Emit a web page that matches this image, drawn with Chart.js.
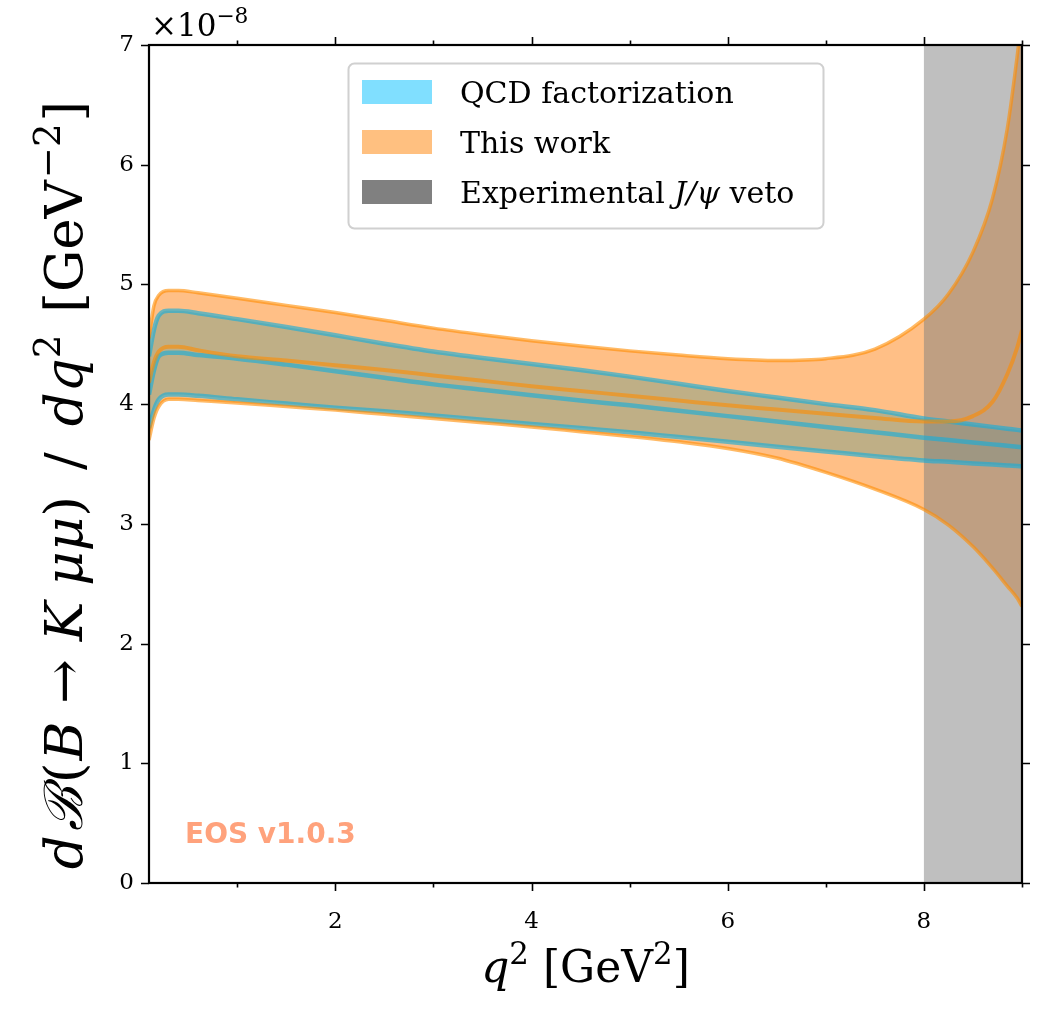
<!DOCTYPE html>
<html>
<head>
<meta charset="utf-8">
<script src="https://cdn.jsdelivr.net/npm/chart.js@4.4.0/dist/chart.umd.min.js"></script>
<style>
    html, body { margin: 0; padding: 0; background: #fff; }
</style>
</head>
<body>
<canvas id="myChart" width="1051" height="1014"></canvas>
<script>
// q^2 격자 [GeV^2]
const q2 = [0.1, 0.15, 0.2, 0.3, 0.4, 0.6, 1, 1.5, 2, 2.5, 3, 3.5, 4, 4.5, 5, 5.5, 6, 6.5, 7, 7.5, 8, 8.25, 8.5, 8.7, 8.85, 8.95, 9]

// This work 밴드 (단위 1e-8)
const thisUpper = [4.55, 4.82, 4.91, 4.95, 4.95, 4.93, 4.885, 4.825, 4.765, 4.70, 4.635, 4.58, 4.53, 4.485, 4.445, 4.41, 4.38, 4.365, 4.38, 4.46, 4.71, 4.92, 5.27, 5.72, 6.30, 6.90, 7.25]
const thisCentral = [4.18, 4.35, 4.44, 4.48, 4.48, 4.45, 4.40, 4.365, 4.325, 4.285, 4.24, 4.195, 4.15, 4.11, 4.07, 4.03, 3.99, 3.955, 3.92, 3.885, 3.855, 3.855, 3.90, 4.02, 4.25, 4.47, 4.62]
const thisLower = [3.70, 3.88, 3.98, 4.04, 4.04, 4.03, 4.01, 3.98, 3.95, 3.915, 3.88, 3.845, 3.81, 3.77, 3.73, 3.685, 3.63, 3.55, 3.43, 3.29, 3.12, 2.99, 2.81, 2.63, 2.48, 2.38, 2.31]

// QCD factorization 밴드
const qcdUpper = [4.40, 4.62, 4.74, 4.78, 4.78, 4.76, 4.71, 4.645, 4.575, 4.505, 4.44, 4.385, 4.335, 4.285, 4.23, 4.17, 4.11, 4.055, 4.00, 3.95, 3.88, 3.855, 3.83, 3.81, 3.795, 3.785, 3.78]
const qcdCentral = [4.08, 4.28, 4.40, 4.43, 4.43, 4.41, 4.38, 4.33, 4.275, 4.22, 4.165, 4.12, 4.075, 4.03, 3.99, 3.945, 3.90, 3.855, 3.81, 3.765, 3.72, 3.70, 3.68, 3.664, 3.652, 3.644, 3.64]
const qcdLower = [3.80, 3.95, 4.04, 4.08, 4.08, 4.07, 4.04, 4.005, 3.97, 3.94, 3.905, 3.87, 3.835, 3.80, 3.765, 3.725, 3.685, 3.645, 3.605, 3.565, 3.53, 3.518, 3.505, 3.495, 3.488, 3.483, 3.48]

// J/psi veto 구간
const vetoRange = [8, 9]

// 눈금
const xMajor = [2, 4, 6, 8]
const xMinor = [1, 3, 5, 7, 9]
const yTicks = [0, 1, 2, 3, 4, 5, 6, 7]

const legendLabels = ['QCD factorization', 'This work', 'Experimental']

const SERIF = '"DejaVu Serif"'
Chart.defaults.font.family = SERIF
Chart.defaults.color = '#000'

function xy(ys) {
    return q2.map(function (x, i) { return { x: x, y: ys[i] } })
}

// 이탤릭/위첨자 섞인 글자 그리기
function partFont(p, size) {
    const s = p.sup ? size * 0.7 : size
    return (p.i ? 'italic ' : '') + s + 'px ' + SERIF
}
function richWidth(c, parts, size) {
    let w = 0
    parts.forEach(function (p) {
        c.font = partFont(p, size)
        w += c.measureText(p.t).width + (p.gap || 0)
    })
    return w
}
function drawRich(c, parts, x, y, size, align) {
    let cx = align === 'left' ? x : x - richWidth(c, parts, size) / 2
    c.textAlign = 'left'
    c.textBaseline = 'alphabetic'
    parts.forEach(function (p) {
        c.font = partFont(p, size)
        c.fillText(p.t, cx, p.sup ? y - size * 0.42 : y)
        cx += c.measureText(p.t).width + (p.gap || 0)
    })
}

const yTitle = [
    { t: 'd', i: 1, gap: 4 }, { t: 'ℬ', i: 1, gap: 4 }, { t: '(', gap: 2 }, { t: 'B', i: 1, gap: 18 }, { t: '→', gap: 18 },
    { t: 'K', i: 1, gap: 16 }, { t: 'μμ', i: 1 }, { t: ')', gap: 26 }, { t: '/', gap: 26 },
    { t: 'dq', i: 1 }, { t: '2', sup: 1, gap: 22 }, { t: '[GeV', gap: 2 }, { t: '−2', sup: 1, gap: 2 }, { t: ']' },
]
const xTitle = [{ t: 'q', i: 1 }, { t: '2', sup: 1 }, { t: ' [GeV' }, { t: '2', sup: 1 }, { t: ']' }]

// veto 영역: 밴드 채우기 위, 선 아래
const vetoPlugin = {
    id: 'veto',
    beforeDatasetsDraw: function (chart) {
        const c = chart.ctx
        const a = chart.chartArea
        const xs = chart.scales.x
        const x0 = xs.getPixelForValue(vetoRange[0])
        const x1 = xs.getPixelForValue(vetoRange[1])
        c.save()
        c.fillStyle = 'rgba(128,128,128,0.5)'
        c.fillRect(x0, a.top, x1 - x0, a.bottom - a.top)
        c.restore()
    },
}

// 테두리, 눈금, 범례, 축 제목
const framePlugin = {
    id: 'frame',
    afterDraw: function (chart) {
        const c = chart.ctx
        const a = chart.chartArea
        const xs = chart.scales.x
        const ys = chart.scales.y
        c.save()

        c.strokeStyle = '#000'
        c.lineWidth = 1.6
        c.beginPath()
        xMajor.concat(xMinor).forEach(function (v) {
            const len = xMajor.includes(v) ? 8 : 4.5
            const px = Math.round(xs.getPixelForValue(v)) + 0.5
            c.moveTo(px, a.bottom); c.lineTo(px, a.bottom + len)
            c.moveTo(px, a.top); c.lineTo(px, a.top - len)
        })
        yTicks.forEach(function (v) {
            const py = Math.round(ys.getPixelForValue(v)) + 0.5
            c.moveTo(a.left, py); c.lineTo(a.left - 8, py)
            c.moveTo(a.right, py); c.lineTo(a.right + 8, py)
        })
        c.stroke()

        c.lineWidth = 2.2
        c.strokeRect(a.left, a.top, a.right - a.left, a.bottom - a.top)

        // 범례
        const lx = 348.5, ly = 63.5, lw = 475, lh = 165
        c.beginPath()
        c.roundRect(lx, ly, lw, lh, 6)
        c.fillStyle = 'rgba(255,255,255,0.85)'
        c.fill()
        c.strokeStyle = '#d0d0d0'
        c.lineWidth = 2
        c.stroke()

        const patchColors = ['rgb(128,223,255)', 'rgb(255,192,128)', 'rgb(128,128,128)']
        const rows = [92, 142, 192]
        rows.forEach(function (ry, k) {
            c.fillStyle = patchColors[k]
            c.fillRect(362, ry - 12, 70, 24)
        })
        c.fillStyle = '#000'
        drawRich(c, [{ t: legendLabels[0] }], 460, rows[0] + 11, 30, 'left')
        drawRich(c, [{ t: legendLabels[1] }], 460, rows[1] + 11, 30, 'left')
        drawRich(c, [{ t: legendLabels[2] + ' ' }, { t: 'J/ψ', i: 1 }, { t: ' veto' }], 460, rows[2] + 11, 30, 'left')

        // 지수 표시
        drawRich(c, [{ t: '×10' }, { t: '−8', sup: 1 }], 151, 36, 31, 'left')

        // 축 제목
        drawRich(c, xTitle, (a.left + a.right) / 2, 982, 44)
        c.save()
        c.translate(82, 485)
        c.rotate(-Math.PI / 2)
        drawRich(c, yTitle, 0, 0, 53)
        c.restore()

        // 버전 표시
        c.font = 'bold 28px "DejaVu Sans"'
        c.fillStyle = 'rgb(255,162,124)'
        c.textAlign = 'left'
        c.fillText('EOS v1.0.3', 185, 843)

        c.restore()
    },
}

const orangeFill = 'rgba(255,127,14,0.5)'
const orangeLine = 'rgba(255,140,0,0.6)'
const blueFill = 'rgba(0,191,255,0.5)'
const blueLine = 'rgba(20,175,220,0.62)'

const data = {
    datasets: [
        { label: 'This work', data: xy(thisUpper), borderColor: orangeLine, borderWidth: 3.5, backgroundColor: orangeFill, fill: '+2', order: 0 },
        { label: 'This work central', data: xy(thisCentral), borderColor: orangeLine, borderWidth: 4, fill: false, order: 0 },
        { label: 'This work lower', data: xy(thisLower), borderColor: orangeLine, borderWidth: 3.5, fill: false, order: 0 },
        { label: 'QCD factorization', data: xy(qcdUpper), borderColor: blueLine, borderWidth: 4.5, backgroundColor: blueFill, fill: '+2', order: 1 },
        { label: 'QCD central', data: xy(qcdCentral), borderColor: blueLine, borderWidth: 4.5, fill: false, order: 1 },
        { label: 'QCD lower', data: xy(qcdLower), borderColor: blueLine, borderWidth: 4.5, fill: false, order: 1 },
    ],
}

const ctx = document.getElementById('myChart').getContext('2d')
const myChart = new Chart(ctx, {
    type: 'line',
    data: data,
    plugins: [vetoPlugin, framePlugin],
    options: {
        responsive: false,
        animation: false,
        layout: { padding: { top: 45, right: 29, left: 0, bottom: 0 } },
        elements: {
            point: { radius: 0 },
            line: { cubicInterpolationMode: 'monotone' },
        },
        plugins: {
            legend: { display: false },
            tooltip: { enabled: false },
            filler: { drawTime: 'beforeDatasetsDraw' },
        },
        scales: {
            x: {
                type: 'linear',
                min: 0.1,
                max: 9,
                afterBuildTicks: function (s) { s.ticks = xMajor.map(function (v) { return { value: v } }) },
                afterFit: function (s) { s.height = 131 },
                grid: { display: false, drawTicks: false },
                border: { display: false },
                ticks: { font: { size: 23 }, padding: 25, maxRotation: 0, autoSkip: false },
            },
            y: {
                type: 'linear',
                min: 0,
                max: 7,
                afterBuildTicks: function (s) { s.ticks = yTicks.map(function (v) { return { value: v } }) },
                afterFit: function (s) { s.width = 149 },
                grid: { display: false, drawTicks: false },
                border: { display: false },
                ticks: { font: { size: 23 }, padding: 15 },
            },
        },
    },
})
</script>
</body>
</html>
